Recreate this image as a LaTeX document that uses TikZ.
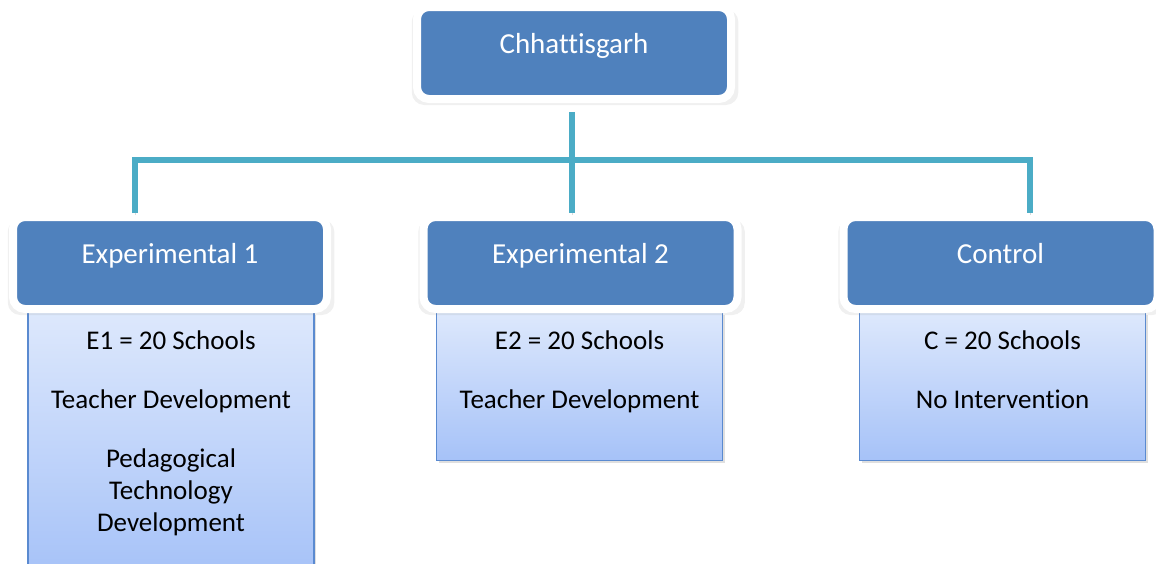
\documentclass[tikz,border=0pt]{standalone}
\usepackage{fontspec}
\setmainfont{Carlito}[Ligatures=NoCommon]
\usetikzlibrary{positioning,calc,shadows}
\definecolor{headblue}{HTML}{4F81BD}
\definecolor{linkcyan}{HTML}{4BACC6}
\definecolor{boxtop}{HTML}{DDE8FC}
\definecolor{boxbottom}{HTML}{A6C2F8}
\definecolor{boxedge}{HTML}{5A8AD0}

\begin{document}
\begin{tikzpicture}[x=1pt,y=-1pt,
	head/.style={rectangle, rounded corners=12pt, fill=headblue, draw=white, line width=8pt,
		minimum width=314pt, minimum height=92pt, text=white, font=\fontsize{29}{34}\selectfont,
		text height=14pt, text depth=14pt,
		drop shadow={opacity=0.12, shadow scale=1.04, shadow xshift=1pt, shadow yshift=-4pt}},
	group/.style={rectangle, top color=boxtop, bottom color=boxbottom, draw=boxedge, line width=1.2pt,
		minimum width=286pt, drop shadow={opacity=0.25, shadow xshift=2pt, shadow yshift=-2pt}},
	body/.style={align=center, font=\fontsize{27}{32}\selectfont, inner sep=0pt},
	link/.style={draw=linkcyan, line width=6pt,
		preaction={draw=black!35, opacity=0.4, transform canvas={yshift=-2pt}}}]
		\useasboundingbox (0,0) rectangle (1156,563);
		\clip (0,0) rectangle (1156,563);
		
		\node[group, minimum height=263pt, anchor=north] (g1) at (171,312) {};
		\node[group, minimum height=148pt, anchor=north] (g2) at (579.5,312) {};
		\node[group, minimum height=148pt, anchor=north] (g3) at (1002.5,312) {};
		\node[body, anchor=north] (t1) at ([yshift=-19pt]g1.north) {E1 = 20 Schools\\[27pt] Teacher Development\\[27pt] Pedagogical\\ Technology\\ Development};
		\node[body, anchor=north] (t2) at ([yshift=-19pt]g2.north) {E2 = 20 Schools\\[27pt] Teacher Development};
		\node[body, anchor=north] (t3) at ([yshift=-19pt]g3.north) {C = 20 Schools\\[27pt] No Intervention};
		
		\node[head] (state) at (574,53) {Chhattisgarh};
		\node[head] (exp1) at (170,263) {Experimental 1};
		\node[head] (exp2) at (580.5,263) {Experimental 2};
		\node[head] (ctrl) at (1000.5,263) {Control};
		
		\coordinate (c0) at ($(state.south)+(-2,9)$);
		\coordinate (c1) at ($(exp1.north)+(-35,0)$);
		\coordinate (c2) at ($(exp2.north)+(-8.5,0)$);
		\coordinate (c3) at ($(ctrl.north)+(29.5,0)$);
		\coordinate (bus) at (c0 |- 0,160);
		
		\draw[link] (c1) -- (c1 |- bus) -- (c3 |- bus) -- (c3);
		\draw[link] (c0) -- (c2);
	\end{tikzpicture}
\end{document}
